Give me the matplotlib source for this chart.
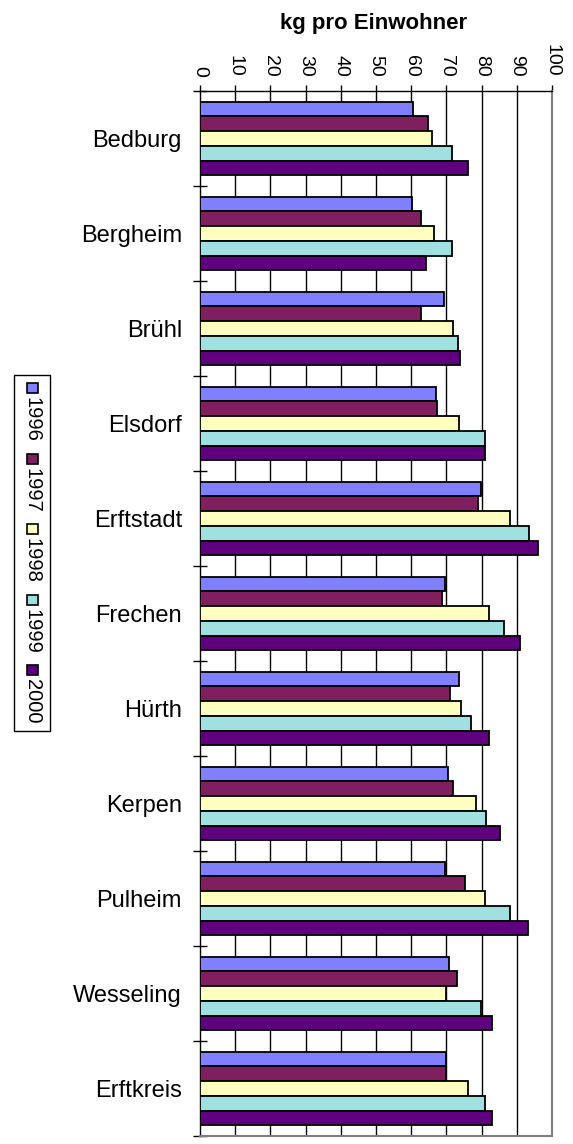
import matplotlib
matplotlib.use("Agg")
import matplotlib.pyplot as plt
from matplotlib.patches import Rectangle
import numpy as np

plt.rcParams['font.family'] = ['Liberation Sans', 'DejaVu Sans']

categories = ["Bedburg", "Bergheim", "Brühl", "Elsdorf", "Erftstadt", "Frechen",
              "Hürth", "Kerpen", "Pulheim", "Wesseling", "Erftkreis"]
years = ["1996", "1997", "1998", "1999", "2000"]
v1996 = [60.5, 60.2, 69.3, 67.1, 79.9, 69.5, 73.5, 70.4, 69.7, 70.6, 69.9]
v1997 = [64.7, 62.8, 62.7, 67.3, 79.0, 68.7, 70.9, 72.0, 75.2, 73.0, 69.9]
v1998 = [65.8, 66.6, 72.0, 73.7, 88.0, 82.0, 74.1, 78.5, 80.9, 69.9, 76.1]
v1999 = [71.5, 71.7, 73.4, 81.0, 93.6, 86.4, 77.1, 81.3, 88.0, 79.9, 81.0]
v2000 = [76.1, 64.2, 73.9, 81.0, 96.0, 91.0, 82.1, 85.1, 93.1, 83.0, 83.0]
series = [v1996, v1997, v1998, v1999, v2000]
colors = ["#8080FF", "#7F1F5F", "#FFFFC0", "#A0E0E0", "#5F007F"]
xticks = [0, 10, 20, 30, 40, 50, 60, 70, 80, 90, 100]

W, H = 573, 1144
fig = plt.figure(figsize=(W / 100, H / 100), dpi=100)

left, right, top, bottom = 200, 552, 91, 1136
ax = fig.add_axes([left / W, 1 - bottom / H, (right - left) / W, (bottom - top) / H])

y = np.arange(len(categories))
bh = 0.1545
for j, (vals, c) in enumerate(zip(series, colors)):
    ax.barh(y + (j - 2) * bh, vals, height=bh, color=c, edgecolor="black",
            linewidth=1.3, zorder=3, label=years[j])

ax.set_xlim(0, 100)
ax.set_ylim(len(categories) - 0.5, -0.5)
ax.xaxis.tick_top()
ax.set_xticks(xticks)
ax.set_xticklabels([str(t) for t in xticks], rotation=270, fontsize=14)
ax.tick_params(axis="x", direction="out", length=4, width=1.0, pad=6, color="black")
for t in xticks[1:]:
    ax.axvline(t, color="#808080" if t == 100 else "black", lw=1.0, zorder=1)

ax.set_yticks(y)
ax.set_yticklabels(categories, fontsize=17)
ax.tick_params(axis="y", which="major", length=0, pad=13)
ax.set_yticks(np.arange(len(categories) + 1) - 0.5, minor=True)
ax.tick_params(axis="y", which="minor", direction="inout", length=10, width=1.0, color="black")

ax.spines["left"].set_color("black")
ax.spines["left"].set_linewidth(1.0)
ax.spines["top"].set_color("black")
ax.spines["top"].set_linewidth(1.0)
ax.spines["right"].set_color("#808080")
ax.spines["right"].set_linewidth(1.5)
ax.spines["bottom"].set_color("#808080")
ax.spines["bottom"].set_linewidth(1.5)

fig.text(374 / W, 1 - 23 / H, "kg pro Einwohner", fontsize=16, fontweight="bold",
         ha="center", va="center")

# legend (rotated)
lx0, lx1, ly0, ly1 = 13, 50, 374, 731
lax = fig.add_axes([lx0 / W, 1 - ly1 / H, (lx1 - lx0) / W, (ly1 - ly0) / H])
lax.set_xlim(lx0, lx1)
lax.set_ylim(ly1, ly0)
lax.axis("off")
lax.add_patch(Rectangle((lx0 + 0.5, ly0 + 0.5), lx1 - lx0 - 1, ly1 - ly0 - 1,
                        facecolor="white", edgecolor="black", lw=1.0, clip_on=False))
for j, (yr, c) in enumerate(zip(years, colors)):
    sy = 383 + j * 70.5
    lax.add_patch(Rectangle((27, sy), 11, 10, facecolor=c, edgecolor="black", lw=1.2))
    lax.text(32, sy + 14, yr, rotation=270, ha="center", va="top", fontsize=14.5)

fig.savefig("out.png", dpi=100)
